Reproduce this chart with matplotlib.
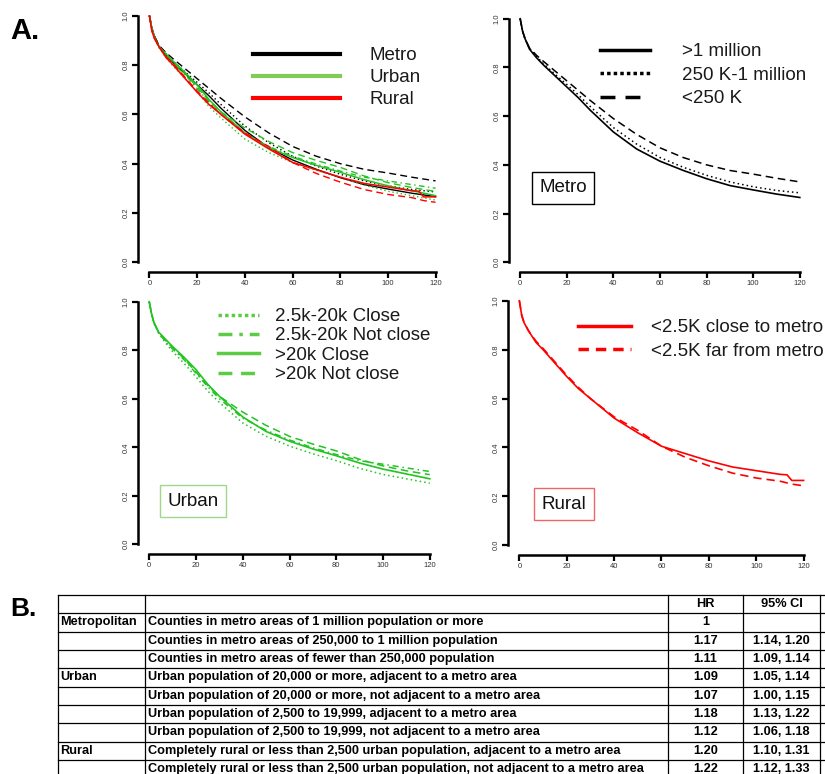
import numpy as np
import matplotlib.pyplot as plt
from matplotlib.lines import Line2D

plt.rcParams['font.family'] = ['Liberation Sans', 'DejaVu Sans']

# months of follow-up
months = [0, 1, 2, 4, 7, 10, 15, 20, 25, 30, 40, 50, 60, 70, 80, 90, 100, 110, 120]
months_rural = [0, 1, 2, 4, 7, 10, 15, 20, 25, 30, 40, 50, 60, 70, 80, 90, 100, 110, 113, 115, 120]

# metro survival
metro_1m = [1.0, 0.95, 0.92, 0.875, 0.84, 0.81, 0.765, 0.72, 0.675, 0.625, 0.535, 0.465, 0.415, 0.377, 0.343, 0.315, 0.297, 0.28, 0.266]
metro_250k_1m = [1.0, 0.95, 0.92, 0.878, 0.845, 0.815, 0.772, 0.73, 0.687, 0.64, 0.553, 0.485, 0.43, 0.39, 0.357, 0.33, 0.31, 0.295, 0.285]
metro_lt250k = [1.0, 0.95, 0.92, 0.88, 0.85, 0.825, 0.785, 0.745, 0.705, 0.665, 0.59, 0.525, 0.47, 0.43, 0.40, 0.377, 0.362, 0.345, 0.33]

# urban survival
urb_small_close = [1.0, 0.95, 0.91, 0.87, 0.83, 0.795, 0.745, 0.69, 0.632, 0.585, 0.50, 0.445, 0.405, 0.373, 0.345, 0.313, 0.288, 0.27, 0.252]
urb_small_far = [1.0, 0.95, 0.915, 0.873, 0.835, 0.805, 0.76, 0.705, 0.65, 0.60, 0.52, 0.47, 0.43, 0.398, 0.37, 0.345, 0.33, 0.315, 0.30]
urb_big_close = [1.0, 0.95, 0.915, 0.875, 0.845, 0.815, 0.77, 0.72, 0.66, 0.61, 0.525, 0.465, 0.425, 0.393, 0.365, 0.335, 0.31, 0.29, 0.27]
urb_big_far = [1.0, 0.95, 0.915, 0.873, 0.84, 0.81, 0.765, 0.71, 0.655, 0.61, 0.545, 0.49, 0.445, 0.413, 0.385, 0.35, 0.323, 0.303, 0.287]

# rural survival
rur_close = [1.0, 0.94, 0.91, 0.875, 0.83, 0.80, 0.745, 0.69, 0.64, 0.60, 0.52, 0.46, 0.405, 0.375, 0.345, 0.32, 0.305, 0.29, 0.288, 0.265, 0.265]
rur_far = [1.0, 0.94, 0.91, 0.875, 0.835, 0.805, 0.75, 0.695, 0.645, 0.60, 0.525, 0.47, 0.405, 0.36, 0.325, 0.295, 0.275, 0.262, 0.255, 0.25, 0.243]

# table B
tab_group = ["", "Metropolitan", "", "", "Urban", "", "", "", "Rural", ""]
tab_desc = ["",
            "Counties in metro areas of 1 million population or more",
            "Counties in metro areas of 250,000 to 1 million population",
            "Counties in metro areas of fewer than 250,000 population",
            "Urban population of 20,000 or more, adjacent to a metro area",
            "Urban population of 20,000 or more, not adjacent to a metro area",
            "Urban population of 2,500 to 19,999, adjacent to a metro area",
            "Urban population of 2,500 to 19,999, not adjacent to a metro area",
            "Completely rural or less than 2,500 urban population, adjacent to a metro area",
            "Completely rural or less than 2,500 urban population, not adjacent to a metro area"]
tab_hr = ["HR", "1", "1.17", "1.11", "1.09", "1.07", "1.18", "1.12", "1.20", "1.22"]
tab_ci = ["95% CI", "", "1.14, 1.20", "1.09, 1.14", "1.05, 1.14", "1.00, 1.15",
          "1.13, 1.22", "1.06, 1.18", "1.10, 1.31", "1.12, 1.33"]

W, H = 825, 774
GREEN = '#22c322'
RED = '#ff0000'
DOT = (0, (1, 2))
DASH = (0, (5, 3))
DASHDOT = (0, (1, 2.5, 4, 2.5))

fig = plt.figure(figsize=(W / 100, H / 100), dpi=100)


def panel(left, top, right, bottom):
    ax = fig.add_axes([left / W, 1 - bottom / H, (right - left) / W, (bottom - top) / H])
    ax.set_xlim(-4.8, 124.8)
    ax.set_ylim(-0.04, 1.04)
    for s in ['top', 'right']:
        ax.spines[s].set_visible(False)
    ax.spines['left'].set_bounds(0, 1)
    ax.spines['bottom'].set_bounds(0, 120)
    ax.spines['left'].set_linewidth(1.8)
    ax.spines['bottom'].set_linewidth(1.8)
    ax.set_xticks(np.arange(0, 121, 20))
    ax.set_yticks(np.arange(0, 1.01, 0.2))
    ax.set_yticklabels(['%.1f' % v for v in np.arange(0, 1.01, 0.2)], rotation=90, va='center')
    ax.tick_params(width=1.6, length=4, labelsize=5.5, labelcolor='#333333', pad=2)
    ax.patch.set_alpha(0)
    return ax


def legend(ax, handles, labels, x, y, hl, tp, ls):
    ax.legend(handles, labels, loc='upper left', bbox_to_anchor=(x / W, 1 - y / H),
              bbox_transform=fig.transFigure, frameon=False, borderpad=0, borderaxespad=0,
              handlelength=hl, handletextpad=tp, labelspacing=ls, fontsize=13.5,
              labelcolor='#1a1a1a')


def box(ax, txt, x, y, ec):
    ax.text(x, y, txt, fontsize=13.5, ha='center', va='center', color='#111111',
            bbox=dict(boxstyle='square,pad=0.4', fc='white', ec=ec, lw=1.0))


# A: overall
ax1 = panel(138, 6, 447, 272)
ax1.plot(months, metro_1m, color='black', lw=1)
ax1.plot(months, metro_250k_1m, color='black', lw=1, ls=DOT)
ax1.plot(months, metro_lt250k, color='black', lw=1, ls=DASH)
ax1.plot(months, urb_small_close, color=GREEN, lw=1, ls=DOT)
ax1.plot(months, urb_small_far, color=GREEN, lw=1, ls=DASHDOT)
ax1.plot(months, urb_big_close, color=GREEN, lw=1.1)
ax1.plot(months, urb_big_far, color=GREEN, lw=1, ls=DASH)
ax1.plot(months_rural, rur_close, color=RED, lw=1.1)
ax1.plot(months_rural, rur_far, color=RED, lw=1, ls=DASH)
legend(ax1, [Line2D([], [], color='black', lw=3),
             Line2D([], [], color='#82cc55', lw=3),
             Line2D([], [], color=RED, lw=3)],
       ['Metro', 'Urban', 'Rural'], 253, 47, 4.64, 1.6, 0.26)

# metro
ax2 = panel(509, 9, 811, 272)
ax2.plot(months, metro_1m, color='black', lw=1.2)
ax2.plot(months, metro_250k_1m, color='black', lw=1.1, ls=DOT)
ax2.plot(months, metro_lt250k, color='black', lw=1.1, ls=DASH)
legend(ax2, [Line2D([], [], color='black', lw=2.5),
             Line2D([], [], color='black', lw=2.5, ls=(0, (1, 0.9))),
             Line2D([], [], color='black', lw=2.5, ls=(0, (4.3, 2.9)))],
       ['>1 million', '250 K-1 million', '<250 K'], 600, 43, 2.67, 1.7, 0.34)
box(ax2, 'Metro', 18.4, 0.305, 'black')

# urban
ax3 = panel(138, 292, 441, 554)
ax3.plot(months, urb_small_close, color=GREEN, lw=1.1, ls=DOT)
ax3.plot(months, urb_small_far, color=GREEN, lw=1.1, ls=DASHDOT)
ax3.plot(months, urb_big_close, color=GREEN, lw=1.2)
ax3.plot(months, urb_big_far, color=GREEN, lw=1.1, ls=DASH)
LG = '#5ccb45'
legend(ax3, [Line2D([], [], color=LG, lw=2.5, ls=(0, (1, 0.9))),
             Line2D([], [], color=LG, lw=2.5, ls=(0, (4, 2, 1, 2))),
             Line2D([], [], color=LG, lw=2.5),
             Line2D([], [], color=LG, lw=2.5, ls=(0, (4, 2.5)))],
       ['2.5k-20k Close', '2.5k-20k Not close', '>20k Close', '>20k Not close'],
       218, 308, 2.2, 0.85, 0.12)
box(ax3, 'Urban', 18.7, 0.178, '#9fd88a')

# rural
ax4 = panel(508, 291, 815, 555)
ax4.plot(months_rural, rur_close, color=RED, lw=1.2)
ax4.plot(months_rural, rur_far, color=RED, lw=1.2, ls=DASH)
legend(ax4, [Line2D([], [], color=RED, lw=2.5),
             Line2D([], [], color=RED, lw=2.5, ls=(0, (3, 2)))],
       ['<2.5K close to metro', '<2.5K far from metro'], 578, 319, 2.8, 1.07, 0.36)
box(ax4, 'Rural', 18.8, 0.168, '#ee6666')

# panel letters and table
axt = fig.add_axes([0, 0, 1, 1], zorder=-1)
axt.set_xlim(0, W)
axt.set_ylim(H, 0)
axt.axis('off')
axt.text(10, 31, 'A.', fontsize=21, fontweight='bold', va='center', ha='left')
axt.text(10, 609, 'B.', fontsize=19, fontweight='bold', va='center', ha='left')

row_top = 595
row_h = 18.33
col_x = [58, 145, 668, 743, 820]
n_rows = len(tab_hr)
for i in range(n_rows + 1):
    yy = row_top + i * row_h
    axt.plot([col_x[0], W + 10], [yy, yy], color='black', lw=0.9)
for cx in col_x:
    axt.plot([cx, cx], [row_top, row_top + n_rows * row_h], color='black', lw=0.9)
for i in range(n_rows):
    yc = row_top + (i + 0.5) * row_h
    axt.text(col_x[0] + 2, yc, tab_group[i], fontsize=9.2, fontweight='bold', va='center')
    axt.text(col_x[1] + 3, yc, tab_desc[i], fontsize=9.2, fontweight='bold', va='center')
    axt.text((col_x[2] + col_x[3]) / 2, yc, tab_hr[i], fontsize=9.2, fontweight='bold',
             va='center', ha='center')
    axt.text((col_x[3] + col_x[4]) / 2, yc, tab_ci[i], fontsize=9.2, fontweight='bold',
             va='center', ha='center')

fig.savefig('out.png', dpi=100)
